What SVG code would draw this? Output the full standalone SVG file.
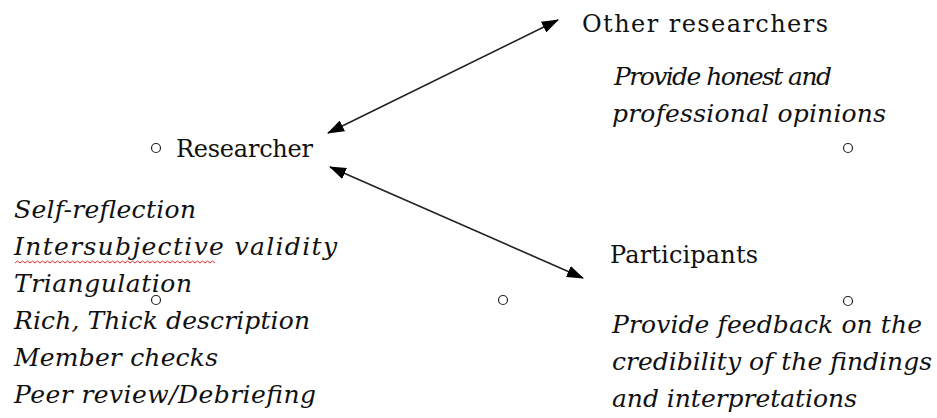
<svg xmlns="http://www.w3.org/2000/svg" width="937" height="418" viewBox="0 0 937 418">
<style>
text{font-family:"DejaVu Serif","Liberation Serif",serif;font-size:24px;fill:#111}
.it{font-style:italic;font-size:25px}
.dot{fill:none;stroke:#222;stroke-width:1.2}
.conn{stroke:#222;stroke-width:1.6;fill:none}
</style>
<defs>
<marker id="ah" viewBox="0 0 17 12" refX="16" refY="6" markerWidth="17" markerHeight="12" markerUnits="userSpaceOnUse" orient="auto-start-reverse">
<path d="M0,0 L17,6 L0,12 Z" fill="#000"/>
</marker>
</defs>
<rect width="937" height="418" fill="#fff"/>
<g id="connectors">
<line class="conn" x1="328" y1="133" x2="558" y2="20" marker-start="url(#ah)" marker-end="url(#ah)"/>
<line class="conn" x1="330" y1="167" x2="583" y2="278" marker-start="url(#ah)" marker-end="url(#ah)"/>
</g>
<g id="researcher">
<circle class="dot" cx="156" cy="148" r="4.5"/>
<text x="176" y="157" textLength="137">Researcher</text>
</g>
<g id="researcher-methods">
<text class="it" x="14" y="218" textLength="182">Self-reflection</text>
<text class="it" x="14" y="255" textLength="323">Intersubjective validity</text>
<path d="M15,263 l2.5,-2 l2.5,2 l2.5,-2 l2.5,2 l2.5,-2 l2.5,2 l2.5,-2 l2.5,2 l2.5,-2 l2.5,2 l2.5,-2 l2.5,2 l2.5,-2 l2.5,2 l2.5,-2 l2.5,2 l2.5,-2 l2.5,2 l2.5,-2 l2.5,2 l2.5,-2 l2.5,2 l2.5,-2 l2.5,2 l2.5,-2 l2.5,2 l2.5,-2 l2.5,2 l2.5,-2 l2.5,2 l2.5,-2 l2.5,2 l2.5,-2 l2.5,2 l2.5,-2 l2.5,2 l2.5,-2 l2.5,2 l2.5,-2 l2.5,2 l2.5,-2 l2.5,2 l2.5,-2 l2.5,2 l2.5,-2 l2.5,2 l2.5,-2 l2.5,2 l2.5,-2 l2.5,2 l2.5,-2 l2.5,2 l2.5,-2 l2.5,2 l2.5,-2 l2.5,2 l2.5,-2 l2.5,2 l2.5,-2 l2.5,2 l2.5,-2 l2.5,2 l2.5,-2 l2.5,2 l2.5,-2 l2.5,2 l2.5,-2 l2.5,2 l2.5,-2 l2.5,2 l2.5,-2 l2.5,2 l2.5,-2 l2.5,2 l2.5,-2 l2.5,2 l2.5,-2 l2.5,2 l2.5,-2 l2.5,2" fill="none" stroke="#e03030" stroke-width="1"/>
<text class="it" x="14" y="292" textLength="178">Triangulation</text>
<circle class="dot" cx="156" cy="300" r="4.5"/>
<text class="it" x="14" y="329" textLength="296">Rich, Thick description</text>
<text class="it" x="14" y="366" textLength="204">Member checks</text>
<text class="it" x="14" y="403" textLength="302">Peer review/Debriefing</text>
</g>
<g id="other-researchers">
<text x="582" y="32" textLength="246">Other researchers</text>
<text class="it" x="614" y="85" textLength="218">Provide honest and</text>
<text class="it" x="612" y="122" textLength="274">professional opinions</text>
<circle class="dot" cx="848" cy="148" r="4.5"/>
</g>
<g id="middle-dot">
<circle class="dot" cx="503" cy="300" r="4.5"/>
</g>
<g id="participants">
<text x="610" y="263" textLength="148">Participants</text>
<circle class="dot" cx="848" cy="301" r="4.5"/>
<text class="it" x="612" y="333" textLength="310">Provide feedback on the</text>
<text class="it" x="612" y="370" textLength="320">credibility of the findings</text>
<text class="it" x="612" y="407" textLength="245">and interpretations</text>
</g>
</svg>
